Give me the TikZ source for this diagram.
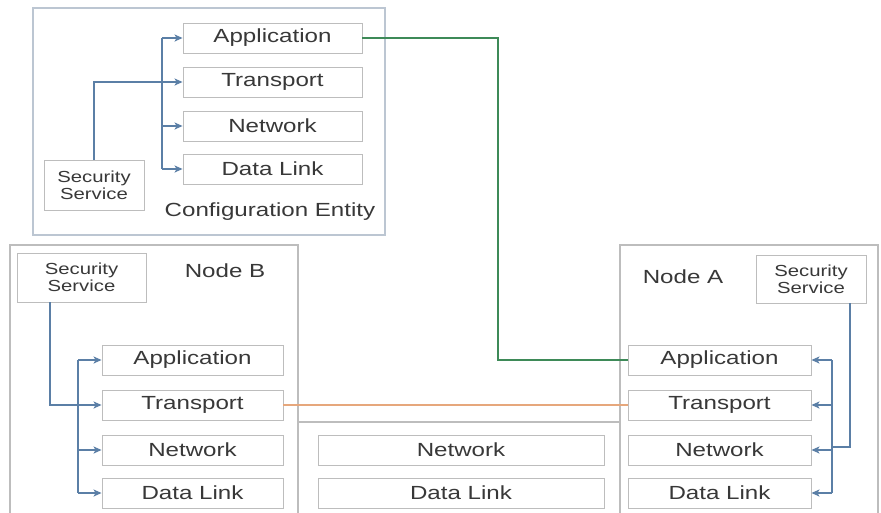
\documentclass[tikz,border=0pt]{standalone}
\usepackage{fontspec}
\setmainfont{Liberation Sans}[FakeStretch=1.27]
\usetikzlibrary{arrows.meta}
\definecolor{txt}{HTML}{383838}
\definecolor{boxline}{HTML}{BDBDBD}
\definecolor{frameline}{HTML}{BCC6D2}
\definecolor{bus}{HTML}{5B7FA6}
\definecolor{linkgreen}{HTML}{3E8A58}
\definecolor{linkorange}{HTML}{E6A77C}
\tikzset{
  frame/.style={draw=frameline, line width=1.1pt},
  layer/.style={draw=boxline, line width=0.9pt, minimum height=30pt, inner sep=0pt,
    text=txt, font=\fontsize{19}{22}\selectfont},
  secbox/.style={draw=boxline, line width=0.9pt, align=center, inner sep=0pt,
    text=txt, font=\fontsize{16}{17}\selectfont},
  caption/.style={text=txt, font=\fontsize{19}{22}\selectfont, inner sep=0pt},
  busline/.style={draw=bus, line width=1.5pt},
  feed/.style={busline, -{Stealth[length=8pt,width=7pt,inset=2pt]}},
}
\begin{document}
\begin{tikzpicture}[x=1pt,y=-1pt]
\useasboundingbox (0,0) rectangle (881,512);
\fill[white] (0,0) rectangle (881,512);
\clip (0,0) rectangle (881,512);

% ---------- Configuration Entity ----------
\draw[frame] (33,8) rectangle (385,235);
\node[layer, minimum width=179pt] (capp) at (272.5,38) {Application};
\node[layer, minimum width=179pt] (ctr)  at (272.5,82) {Transport};
\node[layer, minimum width=179pt] (cnet) at (272.5,126) {Network};
\node[layer, minimum width=179pt] (cdl)  at (272.5,169) {Data Link};
\node[secbox, minimum width=100pt, minimum height=50pt] (css) at (94,185) {Security\\Service};
\node[caption] (ccap) at (270,212) {Configuration Entity};
\coordinate (cbus) at (162,0);
\draw[busline] (cbus |- capp.west) -- (cbus |- cdl.west);
\draw[feed] (cbus |- capp.west) -- (capp.west);
\draw[feed] (cbus |- cnet.west) -- (cnet.west);
\draw[feed] (cbus |- cdl.west) -- (cdl.west);
\draw[feed] (css.north) |- (ctr.west);

% ---------- Node B ----------
\draw[frame, draw=boxline] (10,520) -- (10,245) -- (298,245) -- (298,520);
\node[secbox, minimum width=129pt, minimum height=49pt] (bss) at (81.5,277.5) {Security\\Service};
\node[caption] (bcap) at (225,271) {Node B};
\node[layer, minimum width=181pt] (bapp) at (192.5,360) {Application};
\node[layer, minimum width=181pt] (btr)  at (192.5,405) {Transport};
\node[layer, minimum width=181pt] (bnet) at (192.5,450) {Network};
\node[layer, minimum width=181pt] (bdl)  at (192.5,493) {Data Link};
\coordinate (bbus) at (78,0);
\coordinate (bdrop) at (50,0);
\draw[busline] (bbus |- bapp.west) -- (bbus |- bdl.west);
\draw[feed] (bbus |- bapp.west) -- (bapp.west);
\draw[feed] (bbus |- bnet.west) -- (bnet.west);
\draw[feed] (bbus |- bdl.west) -- (bdl.west);
\draw[feed] (bdrop |- bss.south) |- (btr.west);

% ---------- Intermediate system ----------
\draw[frame, draw=boxline] (298,520) -- (298,422) -- (620,422) -- (620,520);
\node[layer, minimum width=286pt] (mnet) at (461,450) {Network};
\node[layer, minimum width=286pt] (mdl)  at (461,493) {Data Link};

% ---------- Node A ----------
\draw[frame, draw=boxline] (620,520) -- (620,245) -- (878,245) -- (878,520);
\node[secbox, minimum width=110pt, minimum height=48pt] (ass) at (811,279) {Security\\Service};
\node[caption] (acap) at (683,277) {Node A};
\node[layer, minimum width=183pt] (aapp) at (719.5,360) {Application};
\node[layer, minimum width=183pt] (atr)  at (719.5,405) {Transport};
\node[layer, minimum width=183pt] (anet) at (719.5,450) {Network};
\node[layer, minimum width=183pt] (adl)  at (719.5,493) {Data Link};
\coordinate (abus) at (832,0);
\coordinate (adrop) at (850,0);
\draw[busline] (abus |- aapp.east) -- (abus |- adl.east);
\draw[feed] (abus |- aapp.east) -- (aapp.east);
\draw[feed] (abus |- atr.east) -- (atr.east);
\draw[feed] (abus |- anet.east) -- (anet.east);
\draw[feed] (abus |- adl.east) -- (adl.east);
\draw[busline] (adrop |- ass.south) -- (850,447) -- (abus |- 0,447);

% ---------- Peer links ----------
\coordinate (gturn) at (498,0);
\draw[draw=linkgreen, line width=1.8pt] (capp.east) -- (gturn |- capp.east) |- (aapp.west);
\draw[draw=linkorange, line width=1.5pt] (btr.east) -- (atr.west);
\end{tikzpicture}
\end{document}
